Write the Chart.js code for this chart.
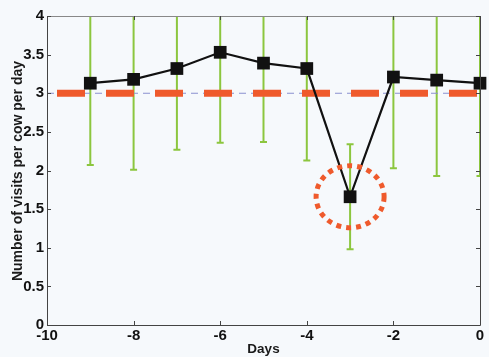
<!DOCTYPE html>
<html><head><meta charset="utf-8">
<script src="https://cdn.jsdelivr.net/npm/chart.js@4/dist/chart.umd.min.js"></script>
<style>html,body{margin:0;padding:0;background:#f6f9fc;}canvas{display:block;}</style>
</head><body>
<div style="width:489px;height:357px;"><canvas id="c" width="489" height="357"></canvas></div>
<script>
const days = [-9, -8, -7, -6, -5, -4, -3, -2, -1, 0];
const visits = [3.13, 3.18, 3.32, 3.53, 3.39, 3.32, 1.66, 3.21, 3.17, 3.13];
const sdev = [1.06, 1.17, 1.05, 1.17, 1.02, 1.19, 0.68, 1.18, 1.24, 1.2];
const refLevel = 3;
const xRange = [-10, 0];
const yRange = [0, 4];
const highlightDay = -3;
const highlightValue = 1.66;
const xTitle = 'Days';
const yTitle = 'Number of visits per cow per day';

const FONT = '"Liberation Sans", Arial, sans-serif';

const errorBars = {
  id: 'errorBars',
  beforeDatasetsDraw(chart) {
    const {ctx, chartArea: a, scales: {x, y}} = chart;
    ctx.save();
    ctx.beginPath(); ctx.rect(a.left - 1, a.top, a.right - a.left + 2, a.bottom - a.top); ctx.clip();
    ctx.strokeStyle = '#8cc63e'; ctx.lineWidth = 2;
    days.forEach((d, i) => {
      const px = x.getPixelForValue(d);
      const lo = y.getPixelForValue(visits[i] - sdev[i]);
      const hi = y.getPixelForValue(visits[i] + sdev[i]);
      ctx.beginPath(); ctx.moveTo(px, lo); ctx.lineTo(px, hi); ctx.stroke();
      ctx.beginPath(); ctx.moveTo(px - 3.5, lo); ctx.lineTo(px + 3.5, lo);
      ctx.moveTo(px - 3.5, hi); ctx.lineTo(px + 3.5, hi); ctx.stroke();
    });
    ctx.restore();
  },
  afterDraw(chart) {
    const {ctx, chartArea: a, scales: {x, y}} = chart;
    ctx.save();
    // highlight circle
    const cx = x.getPixelForValue(highlightDay), cy = y.getPixelForValue(highlightValue);
    ctx.strokeStyle = '#ef5a2c'; ctx.lineWidth = 5; ctx.setLineDash([5, 5]);
    ctx.beginPath(); ctx.ellipse(cx, cy, 34, 31, 0, 0, Math.PI * 2); ctx.stroke();
    ctx.setLineDash([]);
    // box
    ctx.strokeStyle = '#444'; ctx.lineWidth = 1;
    ctx.beginPath();
    ctx.moveTo(a.left + 0.5, a.top + 0.5); ctx.lineTo(a.left + 0.5, a.bottom + 0.5); ctx.lineTo(a.right + 0.5, a.bottom + 0.5); ctx.lineTo(a.right + 0.5, a.top + 0.5);
    ctx.stroke();
    ctx.strokeStyle = '#888';
    ctx.beginPath(); ctx.moveTo(a.left + 0.5, a.top + 0.5); ctx.lineTo(a.right + 0.5, a.top + 0.5); ctx.stroke();
    ctx.strokeStyle = '#444';
    ctx.beginPath();
    x.ticks.forEach(t => {
      const px = Math.round(x.getPixelForValue(t.value)) + 0.5;
      ctx.moveTo(px, a.bottom); ctx.lineTo(px, a.bottom - 4);
      ctx.moveTo(px, a.top); ctx.lineTo(px, a.top + 4);
    });
    y.ticks.forEach(t => {
      const py = Math.round(y.getPixelForValue(t.value)) + 0.5;
      ctx.moveTo(a.left, py); ctx.lineTo(a.left + 4, py);
      ctx.moveTo(a.right, py); ctx.lineTo(a.right - 4, py);
    });
    ctx.stroke();
    // titles
    ctx.fillStyle = '#1a1a1a';
    ctx.textAlign = 'center'; ctx.textBaseline = 'middle';
    ctx.font = 'bold 13.5px ' + FONT;
    ctx.fillText(xTitle, (a.left + a.right) / 2, 349);
    ctx.font = 'bold 14px ' + FONT;
    ctx.translate(18, 171); ctx.rotate(-Math.PI / 2);
    ctx.fillText(yTitle, 0, 0);
    ctx.restore();
  }
};

new Chart(document.getElementById('c'), {
  type: 'scatter',
  data: {
    datasets: [
      {
        data: days.map((d, i) => ({x: d, y: visits[i]})),
        showLine: true, borderColor: '#111', borderWidth: 2.2,
        pointStyle: 'rect', pointRadius: 9, pointBackgroundColor: '#111', pointBorderColor: '#111', pointBorderWidth: 0,
        clip: false
      },
      {
        data: [{x: xRange[0], y: refLevel}, {x: xRange[1], y: refLevel}],
        showLine: true, borderColor: '#ef5a2c', borderWidth: 7, borderDash: [28, 21], borderDashOffset: 39,
        borderCapStyle: 'butt', pointRadius: 0
      },
      {
        data: [{x: xRange[0], y: refLevel}, {x: xRange[1], y: refLevel}],
        showLine: true, borderColor: '#8a90cf', borderWidth: 1, borderDash: [7, 5],
        pointRadius: 0
      }
    ]
  },
  options: {
    responsive: false, animation: false,
    layout: {padding: {left: 0, right: 6, top: 16, bottom: 0}},
    plugins: {legend: {display: false}, tooltip: {enabled: false}},
    scales: {
      x: {
        type: 'linear', min: xRange[0], max: xRange[1],
        grid: {display: false, drawTicks: false}, border: {display: false},
        ticks: {stepSize: 2, padding: 2, color: '#111', font: {family: FONT, size: 15, weight: 'bold'}, maxRotation: 0, callback: v => String(v)},
        afterFit(s) { s.height = 32; }
      },
      y: {
        min: yRange[0], max: yRange[1],
        grid: {display: false, drawTicks: false}, border: {display: false},
        ticks: {stepSize: 0.5, padding: 3, color: '#111', font: {family: FONT, size: 15, weight: 'bold'}, callback: v => String(v)},
        afterFit(s) { s.width = 47; }
      }
    }
  },
  plugins: [errorBars]
});
</script>
</body></html>
